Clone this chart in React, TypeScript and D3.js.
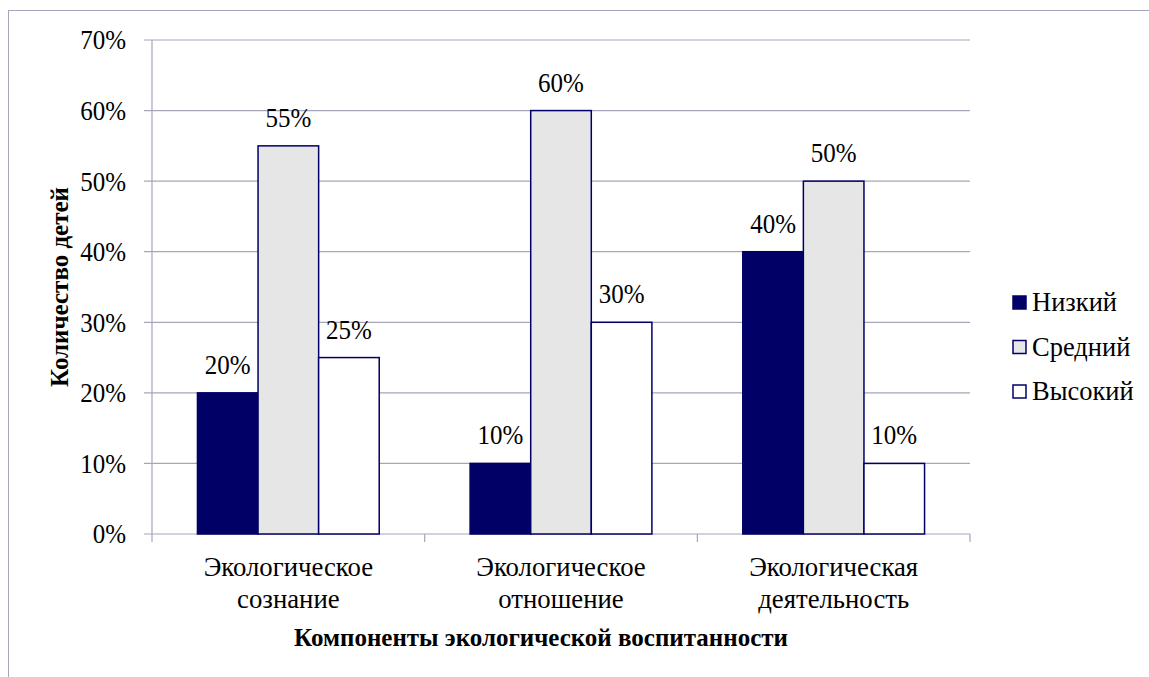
import React from "react";
import * as d3 from "d3";

const categories = [["Экологическое", "сознание"], ["Экологическое", "отношение"], ["Экологическая", "деятельность"]];
const seriesNames = ["Низкий", "Средний", "Высокий"];
const low = [20, 10, 40];
const mid = [55, 60, 50];
const high = [25, 30, 10];
const yTicks = [0, 10, 20, 30, 40, 50, 60, 70];

const fills = ["#000066", "#E6E6E6", "#FFFFFF"];
const stroke = "#000066";
const gridColor = "#A6A6BA";
const fontStyle = { fontFamily: "Liberation Serif" };

function T({ x, y, sx = 1, sy = 1.07, anchor = "start", dy = "0", children }: any) {
  return (
    <text transform={`translate(${x}, ${y}) scale(${sx}, ${sy})`} fontSize={25} textAnchor={anchor} dy={dy} fill="#000" style={fontStyle}>
      {children}
    </text>
  );
}

export default function App() {
  const W = 1149, H = 677;
  const left = 152, right = 970, top = 40, bottom = 534;
  const y = d3.scaleLinear().domain([0, 70]).range([bottom, top]);
  const x0 = d3.scaleBand<number>().domain([0, 1, 2]).range([left, right]).paddingInner(0).paddingOuter(0);
  const catW = x0.bandwidth();
  const barW = catW / 4.5;
  const data = [low, mid, high];

  return (
    <svg width={W} height={H} style={{ position: "absolute", left: 0, top: 0, background: "#fff" }}>
      <rect x={8.5} y={10.5} width={W + 20} height={H + 20} fill="none" stroke={gridColor} strokeWidth={1} />
      {yTicks.map((t) => (
        <g key={t}>
          <line x1={left - 8} x2={right} y1={y(t)} y2={y(t)} stroke={gridColor} strokeWidth={1.2} />
          <T x={126} y={y(t)} dy="0.35em" anchor="end">{t}%</T>
        </g>
      ))}
      <line x1={left} x2={left} y1={top} y2={bottom} stroke={gridColor} strokeWidth={1.2} />
      {[0, 1, 2, 3].map((i) => (
        <line key={i} x1={left + i * catW} x2={left + i * catW} y1={bottom} y2={bottom + 8} stroke={gridColor} strokeWidth={1.2} />
      ))}
      {data.map((vals, s) =>
        vals.map((v, c) => {
          const bx = (x0(c) as number) + catW * (0.75 / 4.5) + s * barW;
          return (
            <g key={`${s}-${c}`}>
              <rect x={bx} y={y(v)} width={barW} height={bottom - y(v)} fill={fills[s]} stroke={stroke} strokeWidth={1.5} />
              <T x={bx + barW / 2} y={y(v) - 19} anchor="middle">{v}%</T>
            </g>
          );
        })
      )}
      {categories.map((lines, c) => (
        <g key={c}>
          <T x={(x0(c) as number) + catW / 2} y={576} sx={1.07} anchor="middle">{lines[0]}</T>
          <T x={(x0(c) as number) + catW / 2} y={608} sx={1.07} anchor="middle">{lines[1]}</T>
        </g>
      ))}
      <text x={(left + right) / 2 - 20} y={646} textAnchor="middle" fontSize={25} fontWeight="bold" fill="#000" style={fontStyle}>
        Компоненты экологической воспитанности
      </text>
      <text transform={`translate(68, ${(top + bottom) / 2}) rotate(-90)`} textAnchor="middle" fontSize={25} fontWeight="bold" fill="#000" style={fontStyle}>
        Количество детей
      </text>
      {seriesNames.map((n, i) => (
        <g key={n}>
          <rect x={1013} y={302.5 + i * 44.5 - 6.5} width={13} height={13} fill={fills[i]} stroke={stroke} strokeWidth={1.5} />
          <T x={1032} y={302.5 + i * 44.5} sx={1.06} dy="0.33em">{n}</T>
        </g>
      ))}
    </svg>
  );
}
